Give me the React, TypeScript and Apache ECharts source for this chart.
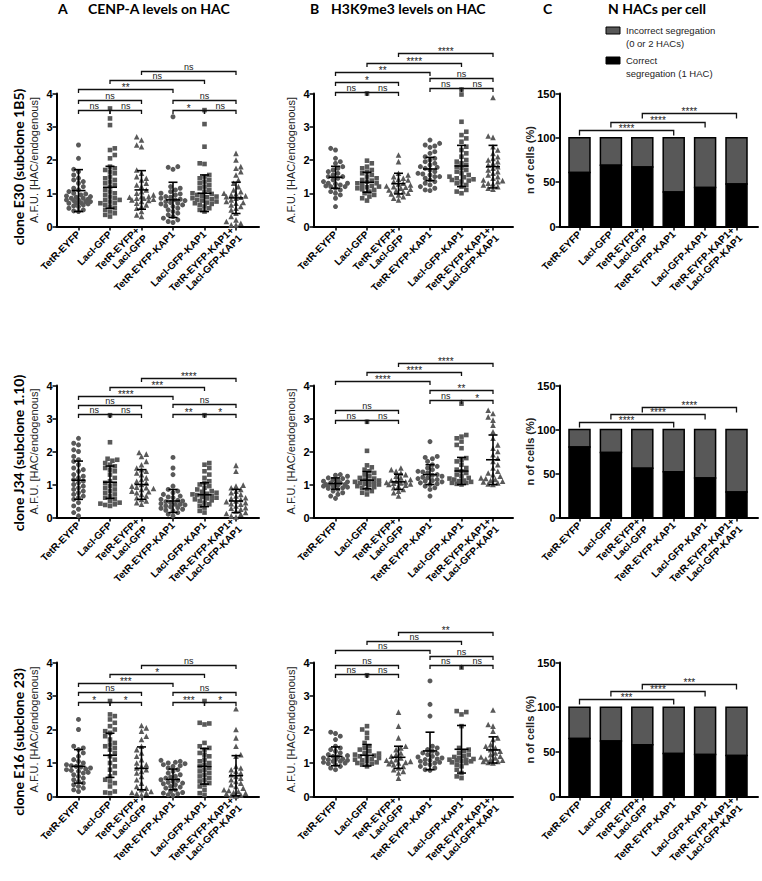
import React, { useEffect, useRef } from "react";
import * as echarts from "echarts";

// ---------- categories ----------
const categories = [
  "TetR-EYFP",
  "LacI-GFP",
  "TetR-EYFP+\nLacI-GFP",
  "TetR-EYFP-KAP1",
  "LacI-GFP-KAP1",
  "TetR-EYFP-KAP1+\nLacI-GFP-KAP1",
];
const groupSymbols = ["circle", "rect", "triangle", "circle", "rect", "triangle"];
const dotTicks = [0, 1, 2, 3, 4];
const barTicks = [0, 50, 100, 150];

// ---------- A: CENP-A, clone E30 ----------
const cenpaE30_g0 = [2.45, 2.05, 1.72, 1.65, 1.55, 1.45, 1.4, 1.35, 1.3, 1.2, 1.15, 1.1, 1.05, 1.0, 0.98, 0.95, 0.92, 0.9, 0.88, 0.85, 0.85, 0.82, 0.8, 0.8, 0.78, 0.75, 0.75, 0.72, 0.7, 0.7, 0.68, 0.65, 0.62, 0.6, 0.55, 0.5, 0.47, 0.45];
const cenpaE30_g1 = [3.55, 3.25, 3.05, 2.35, 2.3, 2.15, 2.05, 1.8, 1.75, 1.7, 1.65, 1.6, 1.5, 1.45, 1.4, 1.35, 1.3, 1.25, 1.2, 1.1, 1.05, 1.0, 0.95, 0.9, 0.85, 0.8, 0.8, 0.75, 0.7, 0.7, 0.65, 0.6, 0.55, 0.5, 0.45, 0.4, 0.35, 0.3];
const cenpaE30_g2 = [2.7, 2.6, 2.45, 2.4, 1.7, 1.6, 1.5, 1.45, 1.4, 1.3, 1.25, 1.2, 1.1, 1.05, 1.0, 0.95, 0.9, 0.9, 0.88, 0.85, 0.85, 0.82, 0.8, 0.78, 0.75, 0.7, 0.65, 0.6, 0.55, 0.45, 0.35, 0.3];
const cenpaE30_g3 = [3.3, 1.8, 1.78, 1.72, 1.2, 1.15, 1.1, 1.05, 1.0, 0.98, 0.95, 0.9, 0.88, 0.85, 0.82, 0.8, 0.78, 0.75, 0.72, 0.7, 0.68, 0.65, 0.62, 0.6, 0.55, 0.5, 0.45, 0.4, 0.35, 0.3, 0.25, 0.2, 0.15, 0.12];
const cenpaE30_g4 = [3.5, 3.08, 2.4, 1.9, 1.88, 1.55, 1.5, 1.45, 1.4, 1.35, 1.3, 1.25, 1.2, 1.15, 1.1, 1.05, 1.0, 0.98, 0.95, 0.92, 0.9, 0.88, 0.85, 0.82, 0.8, 0.78, 0.75, 0.72, 0.7, 0.68, 0.65, 0.6, 0.55, 0.5, 0.45];
const cenpaE30_g5 = [2.2, 2.0, 1.8, 1.75, 1.65, 1.55, 1.4, 1.3, 1.2, 1.1, 1.05, 1.0, 0.98, 0.95, 0.92, 0.9, 0.88, 0.85, 0.8, 0.75, 0.72, 0.7, 0.65, 0.6, 0.55, 0.5, 0.4, 0.3, 0.2, 0.15, 0.1, 0.05, 0.05];
const cenpaE30Mean = [1.08, 1.18, 1.1, 0.8, 1.0, 0.86];
const cenpaE30Sd = [0.63, 0.63, 0.58, 0.53, 0.55, 0.47];
const cenpaE30Brackets: [number, number, number, string][] = [
  [0, 1, 3.5, "ns"], [1, 2, 3.5, "ns"], [0, 2, 3.8, "ns"],
  [3, 4, 3.5, "*"], [4, 5, 3.5, "ns"], [3, 5, 3.8, "ns"],
  [0, 3, 4.14, "**"], [1, 4, 4.41, "ns"], [2, 5, 4.68, "ns"],
];

// ---------- B: H3K9me3, clone E30 ----------
const h3k9E30_g0 = [2.35, 2.3, 2.05, 1.95, 1.9, 1.8, 1.75, 1.7, 1.65, 1.6, 1.55, 1.5, 1.5, 1.45, 1.4, 1.35, 1.3, 1.3, 1.28, 1.25, 1.22, 1.2, 1.2, 1.15, 1.1, 1.05, 1.0, 0.95, 0.85, 0.6];
const h3k9E30_g1 = [4.0, 1.98, 1.9, 1.8, 1.75, 1.7, 1.65, 1.6, 1.55, 1.5, 1.45, 1.4, 1.38, 1.35, 1.3, 1.3, 1.25, 1.22, 1.2, 1.18, 1.15, 1.12, 1.1, 1.05, 1.0, 0.95, 0.9, 0.85, 0.78];
const h3k9E30_g2 = [2.15, 1.95, 1.6, 1.55, 1.5, 1.45, 1.42, 1.4, 1.35, 1.3, 1.28, 1.25, 1.22, 1.2, 1.18, 1.15, 1.12, 1.1, 1.08, 1.05, 1.0, 0.98, 0.95, 0.9, 0.85, 0.8];
const h3k9E30_g3 = [2.6, 2.5, 2.45, 2.42, 2.38, 2.25, 2.2, 2.1, 2.05, 2.0, 1.95, 1.9, 1.85, 1.8, 1.78, 1.75, 1.7, 1.65, 1.6, 1.58, 1.55, 1.5, 1.5, 1.45, 1.4, 1.35, 1.3, 1.25, 1.2, 1.15, 1.1, 1.08];
const h3k9E30_g4 = [4.12, 3.97, 3.15, 2.85, 2.75, 2.65, 2.55, 2.4, 2.3, 2.2, 2.1, 2.0, 1.95, 1.9, 1.85, 1.8, 1.75, 1.7, 1.65, 1.6, 1.55, 1.5, 1.48, 1.45, 1.42, 1.4, 1.38, 1.35, 1.3, 1.25, 1.2, 1.1, 1.05, 1.0];
const h3k9E30_g5 = [3.88, 2.72, 2.68, 2.4, 2.3, 2.2, 2.1, 2.05, 2.0, 1.95, 1.9, 1.85, 1.8, 1.75, 1.7, 1.65, 1.6, 1.55, 1.5, 1.45, 1.4, 1.38, 1.35, 1.3, 1.28, 1.25, 1.2, 1.15, 1.12];
const h3k9E30Mean = [1.48, 1.33, 1.29, 1.73, 1.82, 1.8];
const h3k9E30Sd = [0.33, 0.3, 0.31, 0.35, 0.62, 0.64];
const h3k9E30Brackets: [number, number, number, string][] = [
  [0, 1, 4.04, "ns"], [1, 2, 4.04, "ns"], [0, 2, 4.35, "*"],
  [3, 4, 4.16, "ns"], [4, 5, 4.16, "ns"], [3, 5, 4.47, "ns"],
  [0, 3, 4.66, "**"], [1, 4, 4.93, "****"], [2, 5, 5.22, "****"],
];

// ---------- C: segregation, clone E30 ----------
const correctE30 = [61, 69, 67, 39, 44, 48];
const segE30Brackets: [number, number, number, string][] = [
  [0, 3, 108.8, "****"], [1, 4, 118.2, "****"], [2, 5, 127.7, "****"],
];

// ---------- A: CENP-A, clone J34 ----------
const cenpaJ34_g0 = [2.4, 2.25, 2.2, 2.05, 2.0, 1.85, 1.75, 1.7, 1.6, 1.5, 1.45, 1.4, 1.3, 1.25, 1.2, 1.15, 1.1, 1.05, 1.0, 0.95, 0.9, 0.85, 0.8, 0.75, 0.7, 0.65, 0.6, 0.55, 0.45, 0.35, 0.25, 0.15, 0.05];
const cenpaJ34_g1 = [3.1, 2.28, 1.78, 1.75, 1.72, 1.65, 1.6, 1.55, 1.5, 1.45, 1.4, 1.3, 1.2, 1.1, 1.05, 1.0, 0.95, 0.9, 0.85, 0.8, 0.75, 0.7, 0.65, 0.6, 0.55, 0.5, 0.45, 0.42, 0.4, 0.38, 0.35];
const cenpaJ34_g2 = [1.97, 1.92, 1.85, 1.7, 1.6, 1.5, 1.45, 1.4, 1.35, 1.3, 1.2, 1.15, 1.1, 1.05, 1.0, 0.95, 0.92, 0.9, 0.88, 0.85, 0.8, 0.78, 0.75, 0.7, 0.65, 0.6, 0.55, 0.5, 0.45, 0.4];
const cenpaJ34_g3 = [1.82, 1.5, 1.3, 0.95, 0.85, 0.8, 0.75, 0.7, 0.65, 0.62, 0.6, 0.55, 0.52, 0.5, 0.48, 0.45, 0.42, 0.4, 0.4, 0.38, 0.35, 0.32, 0.3, 0.28, 0.25, 0.22, 0.2, 0.15, 0.1, 0.05];
const cenpaJ34_g4 = [3.1, 1.65, 1.6, 1.5, 1.4, 1.3, 1.2, 1.1, 1.05, 1.0, 0.95, 0.9, 0.85, 0.8, 0.78, 0.75, 0.72, 0.7, 0.68, 0.65, 0.62, 0.6, 0.58, 0.55, 0.52, 0.5, 0.45, 0.4, 0.35, 0.3, 0.2, 0.15];
const cenpaJ34_g5 = [1.58, 1.4, 0.98, 0.95, 0.9, 0.85, 0.8, 0.75, 0.7, 0.65, 0.6, 0.58, 0.55, 0.5, 0.48, 0.45, 0.42, 0.4, 0.35, 0.3, 0.28, 0.25, 0.2, 0.15, 0.12, 0.1, 0.05, 0.02];
const cenpaJ34Mean = [1.13, 1.07, 1.0, 0.5, 0.69, 0.5];
const cenpaJ34Sd = [0.58, 0.49, 0.45, 0.35, 0.36, 0.35];
const cenpaJ34Brackets: [number, number, number, string][] = [
  [0, 1, 3.14, "ns"], [1, 2, 3.14, "ns"], [0, 2, 3.42, "ns"],
  [3, 4, 3.14, "**"], [4, 5, 3.14, "*"], [3, 5, 3.44, "ns"],
  [0, 3, 3.67, "****"], [1, 4, 3.96, "***"], [2, 5, 4.22, "****"],
];

// ---------- B: H3K9me3, clone J34 ----------
const h3k9J34_g0 = [1.3, 1.28, 1.25, 1.2, 1.18, 1.15, 1.12, 1.1, 1.08, 1.05, 1.05, 1.02, 1.0, 1.0, 0.98, 0.98, 0.95, 0.95, 0.92, 0.9, 0.88, 0.85, 0.8, 0.75, 0.7, 0.65, 0.58];
const h3k9J34_g1 = [2.9, 2.02, 1.58, 1.52, 1.45, 1.4, 1.35, 1.3, 1.25, 1.2, 1.18, 1.15, 1.12, 1.1, 1.08, 1.05, 1.05, 1.02, 1.0, 0.98, 0.95, 0.92, 0.9, 0.85, 0.8, 0.75, 0.7];
const h3k9J34_g2 = [1.5, 1.45, 1.4, 1.35, 1.3, 1.25, 1.2, 1.15, 1.12, 1.1, 1.08, 1.06, 1.05, 1.04, 1.02, 1.0, 0.98, 0.95, 0.9, 0.85, 0.8, 0.75, 0.65];
const h3k9J34_g3 = [2.3, 1.85, 1.82, 1.78, 1.7, 1.6, 1.55, 1.5, 1.45, 1.4, 1.38, 1.35, 1.3, 1.28, 1.25, 1.22, 1.2, 1.18, 1.15, 1.12, 1.1, 1.08, 1.05, 1.02, 1.0, 0.95, 0.9, 0.85, 0.65];
const h3k9J34_g4 = [3.45, 2.5, 2.45, 2.4, 2.3, 2.2, 2.1, 1.8, 1.75, 1.7, 1.6, 1.5, 1.45, 1.4, 1.35, 1.3, 1.25, 1.2, 1.18, 1.15, 1.12, 1.1, 1.08, 1.05, 1.05, 1.02, 1.0];
const h3k9J34_g5 = [3.25, 3.15, 3.05, 2.95, 2.8, 2.6, 2.4, 2.2, 2.1, 2.0, 1.9, 1.8, 1.7, 1.6, 1.5, 1.4, 1.35, 1.3, 1.25, 1.2, 1.18, 1.15, 1.12, 1.1, 1.08, 1.05, 1.02, 1.0];
const h3k9J34Mean = [1.03, 1.13, 1.08, 1.3, 1.41, 1.75];
const h3k9J34Sd = [0.17, 0.26, 0.23, 0.3, 0.41, 0.75];
const h3k9J34Brackets: [number, number, number, string][] = [
  [0, 1, 2.95, "ns"], [1, 2, 2.95, "ns"], [0, 2, 3.27, "ns"],
  [3, 4, 3.55, "ns"], [4, 5, 3.55, "*"], [3, 5, 3.85, "**"],
  [0, 3, 4.15, "****"], [1, 4, 4.41, "****"], [2, 5, 4.68, "****"],
];

// ---------- C: segregation, clone J34 ----------
const correctJ34 = [80, 74, 56, 52, 45, 29];
const segJ34Brackets: [number, number, number, string][] = [
  [0, 3, 108.4, "****"], [1, 4, 117.5, "****"], [2, 5, 126.1, "****"],
];

// ---------- A: CENP-A, clone E16 ----------
const cenpaE16_g0 = [2.3, 2.0, 1.5, 1.45, 1.4, 1.3, 1.2, 1.1, 1.05, 1.0, 0.95, 0.92, 0.9, 0.88, 0.85, 0.82, 0.8, 0.78, 0.75, 0.72, 0.7, 0.65, 0.6, 0.55, 0.5, 0.45, 0.4, 0.35, 0.3, 0.25, 0.2, 0.15];
const cenpaE16_g1 = [2.85, 2.45, 2.4, 2.3, 2.2, 2.1, 2.0, 1.95, 1.9, 1.8, 1.7, 1.6, 1.55, 1.5, 1.45, 1.4, 1.3, 1.2, 1.1, 1.0, 0.9, 0.8, 0.7, 0.6, 0.5, 0.45, 0.4, 0.3, 0.15, 0.12, 0.1];
const cenpaE16_g2 = [2.12, 2.05, 1.95, 1.8, 1.7, 1.5, 1.4, 1.3, 1.2, 1.1, 1.0, 0.95, 0.9, 0.85, 0.8, 0.75, 0.7, 0.6, 0.5, 0.4, 0.3, 0.25, 0.2, 0.15, 0.12, 0.1, 0.08, 0.05];
const cenpaE16_g3 = [1.08, 1.05, 1.02, 1.0, 0.98, 0.95, 0.92, 0.9, 0.85, 0.8, 0.75, 0.7, 0.65, 0.6, 0.58, 0.55, 0.5, 0.48, 0.45, 0.42, 0.4, 0.38, 0.35, 0.3, 0.28, 0.25, 0.2, 0.15, 0.12, 0.1, 0.08, 0.05, 0.03];
const cenpaE16_g4 = [2.85, 2.2, 2.18, 2.15, 1.6, 1.5, 1.45, 1.4, 1.3, 1.25, 1.2, 1.1, 1.05, 1.0, 0.95, 0.9, 0.85, 0.8, 0.75, 0.7, 0.65, 0.6, 0.55, 0.5, 0.45, 0.4, 0.35, 0.3, 0.2, 0.1, 0.05];
const cenpaE16_g5 = [2.62, 2.0, 1.75, 1.5, 1.25, 1.2, 0.9, 0.85, 0.8, 0.75, 0.7, 0.65, 0.6, 0.55, 0.5, 0.45, 0.4, 0.35, 0.3, 0.25, 0.2, 0.18, 0.15, 0.12, 0.1, 0.08, 0.05, 0.03, 0.02];
const cenpaE16Mean = [0.9, 1.23, 0.84, 0.51, 0.9, 0.62];
const cenpaE16Sd = [0.5, 0.66, 0.64, 0.31, 0.53, 0.6];
const cenpaE16Brackets: [number, number, number, string][] = [
  [0, 1, 2.83, "*"], [1, 2, 2.83, "*"], [0, 2, 3.12, "ns"],
  [3, 4, 2.83, "***"], [4, 5, 2.83, "*"], [3, 5, 3.12, "ns"],
  [0, 3, 3.38, "***"], [1, 4, 3.65, "*"], [2, 5, 3.92, "ns"],
];

// ---------- B: H3K9me3, clone E16 ----------
const h3k9E16_g0 = [1.92, 1.88, 1.8, 1.7, 1.5, 1.45, 1.4, 1.35, 1.3, 1.25, 1.22, 1.2, 1.18, 1.15, 1.12, 1.1, 1.1, 1.08, 1.05, 1.05, 1.02, 1.0, 0.98, 0.95, 0.9, 0.85, 0.8];
const h3k9E16_g1 = [3.62, 2.1, 2.0, 1.9, 1.75, 1.6, 1.5, 1.45, 1.4, 1.35, 1.3, 1.28, 1.25, 1.22, 1.2, 1.18, 1.15, 1.12, 1.1, 1.08, 1.05, 1.02, 1.0, 0.98, 0.95, 0.9];
const h3k9E16_g2 = [2.52, 2.1, 1.75, 1.5, 1.45, 1.4, 1.3, 1.25, 1.2, 1.15, 1.1, 1.08, 1.05, 1.05, 1.02, 1.0, 0.98, 0.95, 0.9, 0.85, 0.8, 0.75, 0.7, 0.55];
const h3k9E16_g3 = [3.45, 2.75, 2.4, 1.5, 1.45, 1.4, 1.35, 1.3, 1.28, 1.25, 1.2, 1.18, 1.15, 1.12, 1.1, 1.08, 1.05, 1.02, 1.0, 0.98, 0.95, 0.9, 0.85, 0.8, 0.78];
const h3k9E16_g4 = [3.85, 2.55, 2.52, 2.45, 2.1, 1.45, 1.4, 1.35, 1.3, 1.25, 1.2, 1.18, 1.15, 1.12, 1.1, 1.1, 1.08, 1.05, 1.05, 1.02, 1.0, 0.95, 0.9, 0.8, 0.7, 0.6, 0.55];
const h3k9E16_g5 = [2.58, 2.15, 2.1, 1.95, 1.75, 1.7, 1.55, 1.5, 1.45, 1.4, 1.35, 1.3, 1.25, 1.2, 1.18, 1.15, 1.12, 1.1, 1.08, 1.05, 1.05, 1.02, 1.0];
const h3k9E16Mean = [1.2, 1.23, 1.17, 1.36, 1.41, 1.39];
const h3k9E16Sd = [0.28, 0.32, 0.33, 0.56, 0.71, 0.39];
const h3k9E16Brackets: [number, number, number, string][] = [
  [0, 1, 3.65, "ns"], [1, 2, 3.65, "ns"], [0, 2, 3.92, "ns"],
  [3, 4, 3.92, "ns"], [4, 5, 3.92, "ns"], [3, 5, 4.2, "ns"],
  [0, 3, 4.37, "ns"], [1, 4, 4.65, "ns"], [2, 5, 4.9, "**"],
];

// ---------- C: segregation, clone E16 ----------
const correctE16 = [65, 62, 58, 48, 47, 46];
const segE16Brackets: [number, number, number, string][] = [
  [0, 3, 108.7, "***"], [1, 4, 117.9, "****"], [2, 5, 126.4, "***"],
];

// ---------- text ----------
const panelTitles = [
  { letter: "A", text: "CENP-A levels on HAC" },
  { letter: "B", text: "H3K9me3 levels on HAC" },
  { letter: "C", text: "N HACs per cell" },
];
const rowTitles = ["clone E30 (subclone 1B5)", "clone J34 (subclone 1.10)", "clone E16 (subclone 23)"];
const dotAxisName = "A.F.U. [HAC/endogenous]";
const barAxisName = "n of cells (%)";
const legendLines = [
  ["Incorrect segregation", "(0 or 2 HACs)"],
  ["Correct", "segregation (1 HAC)"],
];

// ---------- layout (positions only) ----------
const rowsLayout = [
  { top: 93.5, bottom: 226.5 },
  { top: 385.5, bottom: 517.5 },
  { top: 662.5, bottom: 796.5 },
];
const colsLayout = [
  { left: 56.5, cat0: 78.5, unit: 31.5, right: 259 },
  { left: 313.5, cat0: 335.5, unit: 31.5, right: 513 },
  { left: 559.5, cat0: 579.5, unit: 31.4, right: 758 },
];
const titleLayout = [
  { lx: 58, tx: 88 },
  { lx: 310, tx: 331 },
  { lx: 543, tx: 608 },
];
const rowLabelY = [167, 453, 742];

type DotPanel = { kind: "dot"; row: number; col: number; groups: number[][]; mean: number[]; sd: number[]; brackets: [number, number, number, string][] };
type BarPanel = { kind: "bar"; row: number; col: number; correct: number[]; brackets: [number, number, number, string][] };

const panels: (DotPanel | BarPanel)[] = [
  { kind: "dot", row: 0, col: 0, groups: [cenpaE30_g0, cenpaE30_g1, cenpaE30_g2, cenpaE30_g3, cenpaE30_g4, cenpaE30_g5], mean: cenpaE30Mean, sd: cenpaE30Sd, brackets: cenpaE30Brackets },
  { kind: "dot", row: 0, col: 1, groups: [h3k9E30_g0, h3k9E30_g1, h3k9E30_g2, h3k9E30_g3, h3k9E30_g4, h3k9E30_g5], mean: h3k9E30Mean, sd: h3k9E30Sd, brackets: h3k9E30Brackets },
  { kind: "bar", row: 0, col: 2, correct: correctE30, brackets: segE30Brackets },
  { kind: "dot", row: 1, col: 0, groups: [cenpaJ34_g0, cenpaJ34_g1, cenpaJ34_g2, cenpaJ34_g3, cenpaJ34_g4, cenpaJ34_g5], mean: cenpaJ34Mean, sd: cenpaJ34Sd, brackets: cenpaJ34Brackets },
  { kind: "dot", row: 1, col: 1, groups: [h3k9J34_g0, h3k9J34_g1, h3k9J34_g2, h3k9J34_g3, h3k9J34_g4, h3k9J34_g5], mean: h3k9J34Mean, sd: h3k9J34Sd, brackets: h3k9J34Brackets },
  { kind: "bar", row: 1, col: 2, correct: correctJ34, brackets: segJ34Brackets },
  { kind: "dot", row: 2, col: 0, groups: [cenpaE16_g0, cenpaE16_g1, cenpaE16_g2, cenpaE16_g3, cenpaE16_g4, cenpaE16_g5], mean: cenpaE16Mean, sd: cenpaE16Sd, brackets: cenpaE16Brackets },
  { kind: "dot", row: 2, col: 1, groups: [h3k9E16_g0, h3k9E16_g1, h3k9E16_g2, h3k9E16_g3, h3k9E16_g4, h3k9E16_g5], mean: h3k9E16Mean, sd: h3k9E16Sd, brackets: h3k9E16Brackets },
  { kind: "bar", row: 2, col: 2, correct: correctE16, brackets: segE16Brackets },
];

const FONT = '"Liberation Sans", Arial, sans-serif';
const TITLE_FONT = 'Lato, "Open Sans", sans-serif';
const DOT_COLOR = "#595959";
const GRAY_BAR = "#585858";
const BAR_W = 21;

// deterministic beeswarm layout (horizontal spread computed from the values)
function swarm(vals: number[], ppuY: number, ppuX: number): number[] {
  const d = 4.6, step = 2.4, maxOff = 14;
  const order = vals.map((_, i) => i).sort((a, b) => vals[a] - vals[b]);
  const placed: { x: number; y: number }[] = [];
  const out = new Array(vals.length).fill(0);
  for (const i of order) {
    const y = vals[i] * ppuY;
    let best = 0, bestScore = -Infinity, found = false;
    const flip = placed.length % 2 === 1;
    for (let k = 0; k <= 8 && !found; k++) {
      const cands = k === 0 ? [0] : flip ? [-k * step, k * step] : [k * step, -k * step];
      for (const x of cands) {
        if (Math.abs(x) > maxOff) continue;
        let minD = Infinity;
        for (const q of placed) {
          const dd = Math.hypot(q.x - x, q.y - y);
          if (dd < minD) minD = dd;
        }
        if (minD >= d) { best = x; found = true; break; }
        if (minD > bestScore) { bestScore = minD; best = x; }
      }
    }
    placed.push({ x: best, y });
    out[i] = best / ppuX;
  }
  return out;
}

function bracketSeries(idx: number, brackets: [number, number, number, string][], drop: number) {
  return {
    type: "custom",
    xAxisIndex: idx,
    yAxisIndex: idx,
    clip: false,
    silent: true,
    z: 4,
    itemStyle: { color: "#222" },
    data: brackets.map((b) => [b[0], b[2], b[1]]),
    renderItem: (params: any, api: any) => {
      const b = brackets[params.dataIndex];
      const p1 = api.coord([b[0], b[2]]);
      const p2 = api.coord([b[1], b[2]]);
      const y = Math.round(p1[1]) + 0.5;
      const label = b[3];
      const isStar = label.indexOf("*") >= 0;
      return {
        type: "group",
        children: [
          {
            type: "polyline",
            shape: { points: [[p1[0], y + drop], [p1[0], y], [p2[0], y], [p2[0], y + drop]] },
            style: { stroke: "#111", lineWidth: 1.3, fill: "none" },
          },
          {
            type: "text",
            x: (p1[0] + p2[0]) / 2,
            y: isStar ? y + 3 : y - 0.5,
            rotation: 0.0005,
            style: {
              text: label,
              font: isStar ? `10px ${FONT}` : `9px ${FONT}`,
              fill: "#222",
              stroke: "none",
              lineWidth: 0,
              textAlign: "center",
              textVerticalAlign: "bottom",
              align: "center",
              verticalAlign: "bottom",
            },
          },
        ],
      };
    },
  };
}

function buildOption() {
  const grid: any[] = [];
  const xAxis: any[] = [];
  const yAxis: any[] = [];
  const series: any[] = [];

  panels.forEach((p, idx) => {
    const R = rowsLayout[p.row];
    const C = colsLayout[p.col];
    const ymax = p.kind === "dot" ? 4 : 150;
    const cat5 = C.cat0 + 5 * C.unit;
    grid.push({
      left: C.left,
      top: R.top,
      width: C.right - C.left,
      height: R.bottom - R.top,
      containLabel: false,
      outerBoundsMode: "none",
    });
    xAxis.push({
      type: "value",
      gridIndex: idx,
      min: -(C.cat0 - C.left) / C.unit,
      max: 5 + (C.right - cat5) / C.unit,
      splitLine: { show: false },
      axisLine: { show: true, onZero: false, lineStyle: { color: "#000", width: 2 } },
      axisTick: { show: true, customValues: [0, 1, 2, 3, 4, 5], length: 4, lineStyle: { color: "#000", width: 1.5 } },
      axisLabel: {
        show: true,
        customValues: [0, 1, 2, 3, 4, 5],
        rotate: 45,
        margin: 6,
        formatter: (v: number) => categories[Math.round(v)] || "",
        fontFamily: FONT,
        fontSize: 10,
        fontWeight: "bold",
        color: "#000",
        lineHeight: 11,
      },
    });
    yAxis.push({
      type: "value",
      gridIndex: idx,
      min: 0,
      max: ymax,
      interval: p.kind === "dot" ? 1 : 50,
      name: p.kind === "dot" ? dotAxisName : barAxisName,
      nameLocation: "middle",
      nameGap: p.kind === "dot" ? 17 : 24,
      nameMoveOverlap: false,
      nameTextStyle: {
        fontFamily: FONT,
        fontSize: 11,
        fontWeight: p.kind === "dot" ? "normal" : "bold",
        color: "#222",
      },
      splitLine: { show: false },
      axisLine: { show: true, onZero: false, lineStyle: { color: "#000", width: 2 } },
      axisTick: { show: true, length: 4, lineStyle: { color: "#000", width: 1.5 } },
      axisLabel: {
        margin: 4,
        fontFamily: FONT,
        fontSize: 11,
        fontWeight: "bold",
        color: "#000",
        customValues: p.kind === "dot" ? dotTicks : barTicks,
      },
    });

    if (p.kind === "dot") {
      const ppuY = (R.bottom - R.top) / ymax;
      p.groups.forEach((vals, g) => {
        const offs = swarm(vals, ppuY, C.unit);
        const sym = groupSymbols[g];
        series.push({
          type: "scatter",
          xAxisIndex: idx,
          yAxisIndex: idx,
          name: categories[g],
          symbol: sym,
          symbolSize: sym === "rect" ? 4.6 : sym === "triangle" ? 5.6 : 5,
          clip: false,
          silent: true,
          z: 2,
          itemStyle: { color: DOT_COLOR, opacity: 1 },
          data: vals.map((v, i) => [g + offs[i], v]),
        });
      });
      series.push({
        type: "custom",
        xAxisIndex: idx,
        yAxisIndex: idx,
        clip: false,
        silent: true,
        z: 3,
        itemStyle: { color: "#000" },
        data: p.mean.map((m, i) => [i, m, p.sd[i]]),
        renderItem: (_params: any, api: any) => {
          const x = api.value(0), m = api.value(1), s = api.value(2);
          const c = api.coord([x, m]);
          const t = api.coord([x, m + s]);
          const b = api.coord([x, Math.max(0, m - s)]);
          const st = { stroke: "#000", lineWidth: 1.6 };
          return {
            type: "group",
            children: [
              { type: "line", shape: { x1: c[0], y1: t[1], x2: c[0], y2: b[1] }, style: st },
              { type: "line", shape: { x1: c[0] - 7, y1: c[1], x2: c[0] + 7, y2: c[1] }, style: st },
              { type: "line", shape: { x1: c[0] - 4.5, y1: t[1], x2: c[0] + 4.5, y2: t[1] }, style: st },
              { type: "line", shape: { x1: c[0] - 4.5, y1: b[1], x2: c[0] + 4.5, y2: b[1] }, style: st },
            ],
          };
        },
      });
      series.push(bracketSeries(idx, p.brackets, 3.5));
    } else {
      // stacked bars: correct (black) at the bottom, incorrect (gray) on top
      series.push({
        type: "custom",
        xAxisIndex: idx,
        yAxisIndex: idx,
        clip: false,
        silent: true,
        z: 2,
        itemStyle: { color: "#000" },
        data: p.correct.map((v, i) => [i, v, 100 - v]),
        renderItem: (_params: any, api: any) => {
          const i = api.value(0), c = api.value(1), inc = api.value(2);
          const p0 = api.coord([i, 0]);
          const p1 = api.coord([i, c]);
          const p2 = api.coord([i, c + inc]);
          const x = p0[0] - BAR_W / 2;
          return {
            type: "group",
            children: [
              { type: "rect", shape: { x, y: p2[1], width: BAR_W, height: p1[1] - p2[1] }, style: { fill: GRAY_BAR, stroke: "#000", lineWidth: 1.5 } },
              { type: "rect", shape: { x, y: p1[1], width: BAR_W, height: p0[1] - p1[1] }, style: { fill: "#000", stroke: "#000", lineWidth: 1.5 } },
            ],
          };
        },
      });
      series.push(bracketSeries(idx, p.brackets, 5));
    }
  });

  const graphic: any[] = [];
  panelTitles.forEach((t, i) => {
    graphic.push({
      type: "text",
      x: titleLayout[i].lx,
      y: 8,
      style: { text: t.letter, font: `bold 14px ${TITLE_FONT}`, fill: "#000", textVerticalAlign: "middle", verticalAlign: "middle" },
    });
    graphic.push({
      type: "text",
      x: titleLayout[i].tx,
      y: 8,
      style: { text: t.text, font: `bold 14px ${TITLE_FONT}`, fill: "#000", textVerticalAlign: "middle", verticalAlign: "middle" },
    });
  });
  rowTitles.forEach((t, i) => {
    graphic.push({
      type: "text",
      x: 18,
      y: rowLabelY[i],
      rotation: Math.PI / 2,
      style: {
        text: t,
        font: `bold 14px ${TITLE_FONT}`,
        fill: "#000",
        textAlign: "center",
        align: "center",
        textVerticalAlign: "middle",
        verticalAlign: "middle",
      },
    });
  });
  // legend for panel C
  const legendBoxes = [
    { color: GRAY_BAR, y: 27 },
    { color: "#000", y: 57 },
  ];
  legendBoxes.forEach((it, j) => {
    graphic.push({
      type: "rect",
      shape: { x: 606, y: it.y, width: 14, height: 7 },
      style: { fill: it.color, stroke: "#000", lineWidth: 1 },
    });
    legendLines[j].forEach((ln, k) => {
      graphic.push({
        type: "text",
        x: 626,
        y: it.y + 3.5 + k * 12.5,
        style: { text: ln, font: `9.5px ${FONT}`, fill: "#222", textVerticalAlign: "middle", verticalAlign: "middle" },
      });
    });
  });

  return {
    animation: false,
    backgroundColor: "#fff",
    grid,
    xAxis,
    yAxis,
    series,
    graphic,
  };
}

export default function App() {
  const ref = useRef<HTMLDivElement>(null);
  useEffect(() => {
    if (!ref.current) return;
    const chart = echarts.init(ref.current, null, { renderer: "svg" });
    chart.setOption(buildOption() as any);
    return () => chart.dispose();
  }, []);
  return (
    <div
      ref={ref}
      style={{ position: "absolute", left: 0, top: 0, width: 762, height: 881, background: "#fff" }}
    />
  );
}
